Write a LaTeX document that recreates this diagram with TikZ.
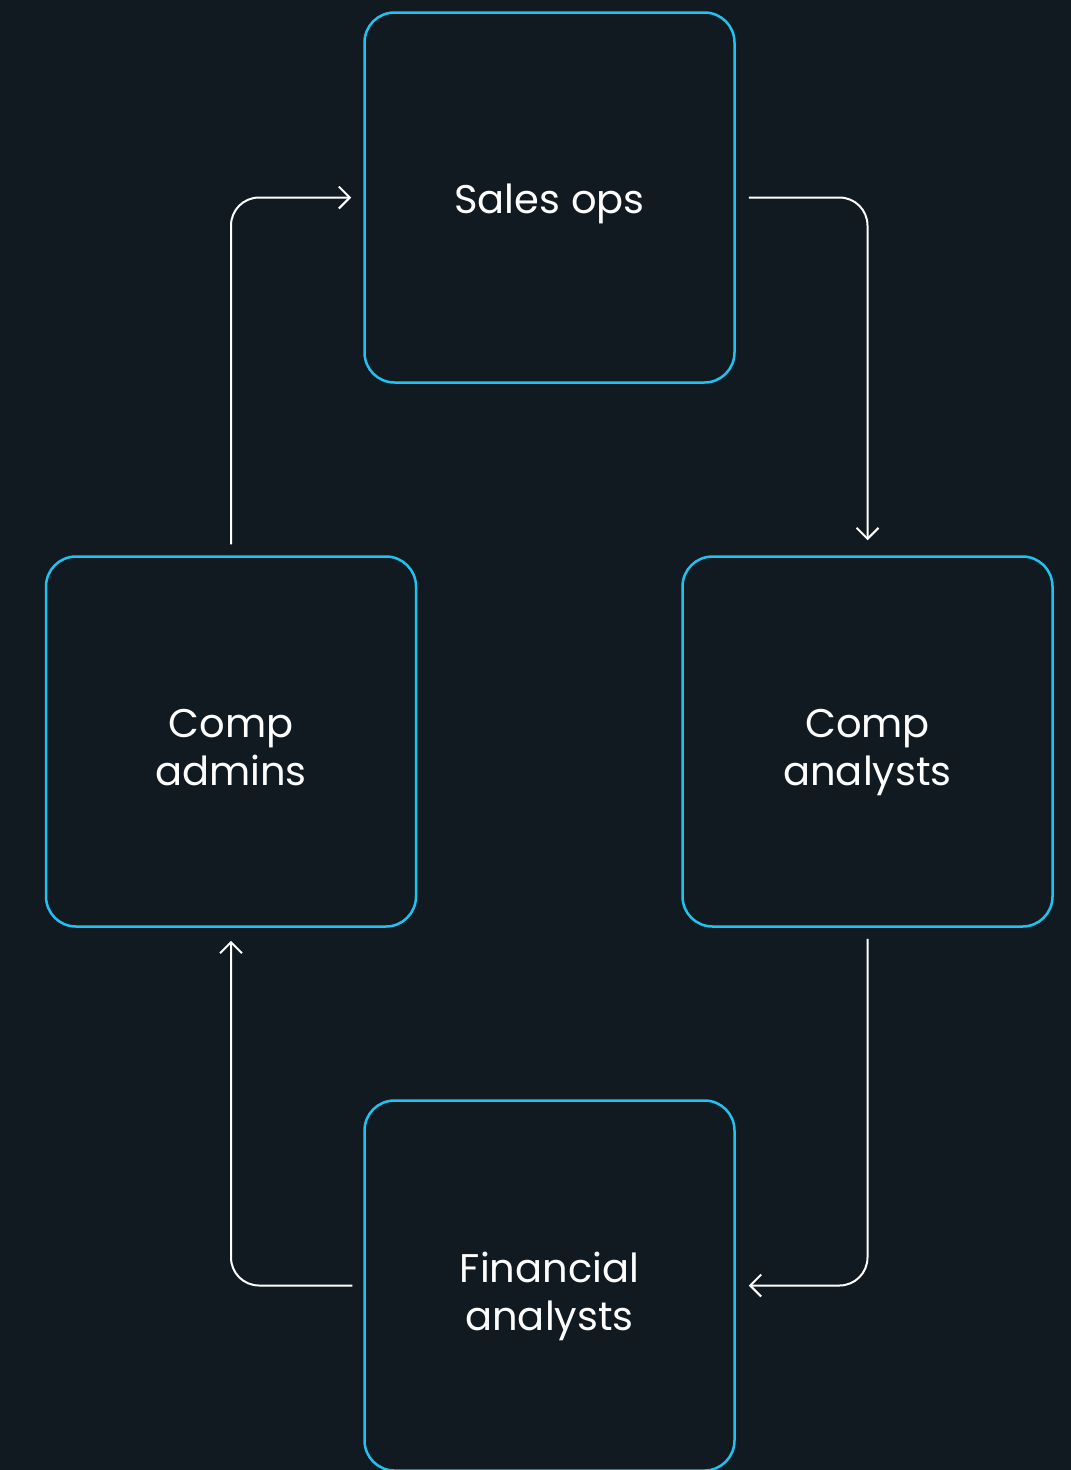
\documentclass[tikz,border=0pt]{standalone}
\usepackage{fontspec}
\setmainfont{Poppins}
\usetikzlibrary{arrows.meta}
\definecolor{bgc}{HTML}{111A21}
\definecolor{cyanb}{HTML}{1FC3F2}
\tikzset{
  box/.style={draw=cyanb, line width=2.5pt, rounded corners=30pt, fill=bgc,
    minimum width=370pt, minimum height=370pt, inner sep=0pt},
  boxtext/.style={text=white, align=center, inner sep=0pt, yshift=-6pt,
    font=\fontsize{40}{48}\selectfont},
  conn/.style={draw=white, line width=2pt, rounded corners=28pt,
    -{Straight Barb[length=11pt,width=22pt,line width=2pt]}}
}
\begin{document}
\begin{tikzpicture}[x=1pt,y=-1pt]
\fill[bgc] (0,0) rectangle (1071,1470);
\useasboundingbox (0,0) rectangle (1071,1470);
\node[box, label={[boxtext]center:Sales ops}] (sales) at (549.5,197.5) {};
\node[box, label={[boxtext]center:Comp\\admins}] (admins) at (231,741.5) {};
\node[box, label={[boxtext, yshift=-5pt]center:Comp\\analysts}] (canal) at (867.5,741.5) {};
\node[box, label={[boxtext, yshift=-5pt]center:Financial\\analysts}] (fin) at (549.5,1285.5) {};
\draw[conn] ([xshift=13pt]sales.east) -| ([yshift=15pt]canal.north);
\draw[conn] ([yshift=-11pt]canal.south) |- ([xshift=13pt]fin.east);
\draw[conn] ([xshift=-11pt]fin.west) -| ([yshift=-13pt]admins.south);
\draw[conn] ([yshift=11pt]admins.north) |- ([xshift=-12pt]sales.west);
\end{tikzpicture}
\end{document}
